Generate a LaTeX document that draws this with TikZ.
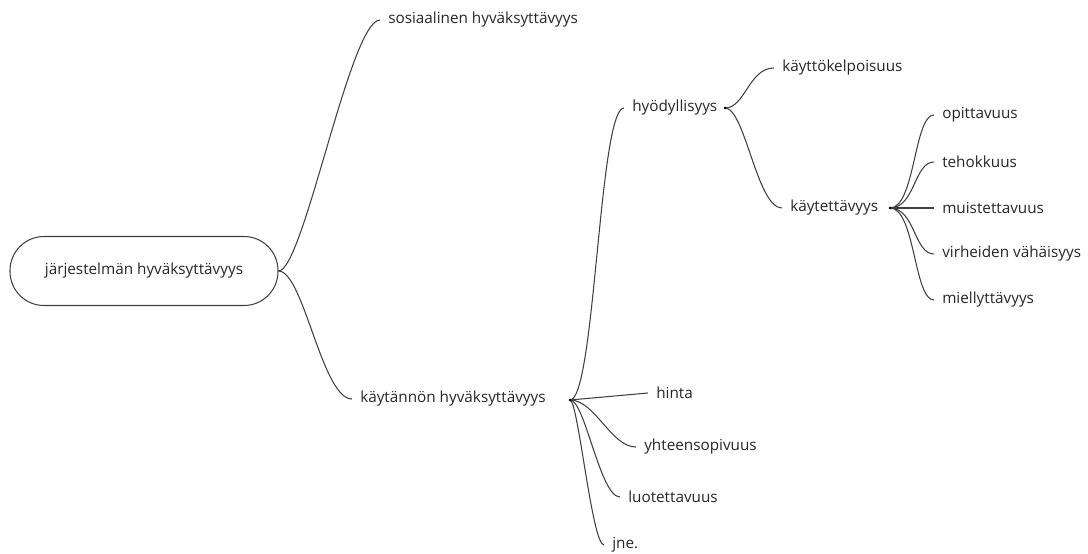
\documentclass[tikz,border=0pt]{standalone}
\usepackage{fontspec}
\setmainfont{Open Sans}
\tikzset{
  lbl/.style={anchor=west,inner xsep=4.5pt,inner ysep=2pt,text=black!85,font=\fontsize{8.7}{10}\selectfont},
  twig/.style={draw=black!75,line width=0.6pt},
}
\begin{document}
\begin{tikzpicture}[x=0.02cm,y=-0.02cm]
            \useasboundingbox (0,0) rectangle (1088,554);
            % Root
            \node [draw=black!75,line width=0.6pt,rounded corners=34*0.02cm,
                   minimum width=268*0.02cm,minimum height=69*0.02cm,text=black!85,
                   font=\fontsize{8.7}{10}\selectfont] (root) at (144,271) {järjestelmän hyväksyttävyys};
            \node [lbl] (sos) at (380,20) {sosiaalinen hyväksyttävyys};
            \node [lbl] (kayt) at (352,399) {käytännön hyväksyttävyys};
            \coordinate (kaytR) at (570,400);
            % Practical
            \node [lbl] (hyod) at (624,108) {hyödyllisyys};
            \node [lbl] (hinta) at (648,393) {hinta};
            \node [lbl] (yht) at (636,447) {yhteensopivuus};
            \node [lbl] (luot) at (620,497) {luotettavuus};
            \node [lbl] (jne) at (604,545) {jne.};
            \coordinate (hyodR) at (725,108);
            % Usefulness
            \node [lbl] (kelp) at (774,68) {käyttökelpoisuus};
            \node [lbl] (kaytt) at (782,208) {käytettävyys};
            \coordinate (kayttR) at (890,208);
            % Usability
            \node [lbl] (opit) at (934,115) {opittavuus};
            \node [lbl] (teho) at (934,162) {tehokkuus};
            \node [lbl] (muis) at (934,208) {muistettavuus};
            \node [lbl] (virh) at (934,254) {virheiden vähäisyys};
            \node [lbl] (miel) at (934,300) {miellyttävyys};
            % Twigs
            \draw [twig] (root.east) .. controls +(25,0) and +(-30,0) .. (sos.west);
            \draw [twig] (root.east) .. controls +(25,0) and +(-30,0) .. (kayt.west);
            \draw [twig] (kaytR) .. controls +(25,0) and +(-25,0) .. (hyod.west);
            \draw [twig] (kaytR) -- (hinta.west);
            \draw [twig] (kaytR) .. controls +(25,0) and +(-25,0) .. (yht.west);
            \draw [twig] (kaytR) .. controls +(15,0) and +(-20,0) .. (luot.west);
            \draw [twig] (kaytR) .. controls +(8,0) and +(-12,0) .. (jne.west);
            \draw [twig] (hyodR) .. controls +(20,0) and +(-25,0) .. (kelp.west);
            \draw [twig] (hyodR) .. controls +(20,0) and +(-25,0) .. (kaytt.west);
            \foreach \leaf in {opit,teho,muis,virh,miel}
              \draw [twig] (kayttR) .. controls +(25,0) and +(-20,0) .. (\leaf.west);
            \foreach \knot in {kaytR,hyodR,kayttR}
              \fill [black] (\knot) circle (1.5);
\end{tikzpicture}
\end{document}
